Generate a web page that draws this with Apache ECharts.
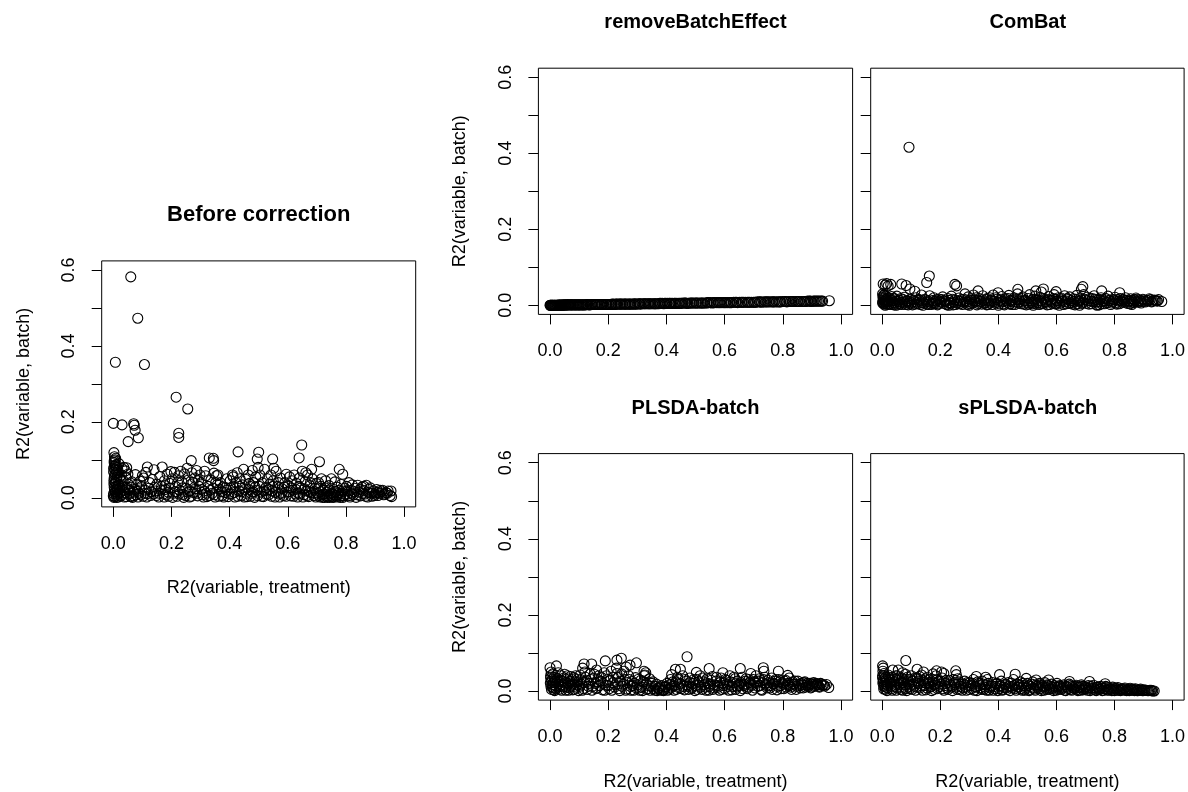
<!DOCTYPE html>
<html><head><meta charset="utf-8">
<script src="https://cdn.jsdelivr.net/npm/echarts@6/dist/echarts.min.js"></script>
<style>html,body{margin:0;padding:0;background:#fff}#c{width:1188px;height:792px}</style>
</head><body><div id="c"></div>
<script>
const panelTitles = ['Before correction', 'removeBatchEffect', 'ComBat', 'PLSDA-batch', 'sPLSDA-batch'];
const xTicks = [0, 0.2, 0.4, 0.6, 0.8, 1.0];
const yTicks = [0, 0.1, 0.2, 0.3, 0.4, 0.5, 0.6];
const yTickLabels = [0, 0.2, 0.4, 0.6];
const xAxisTitle = 'R2(variable, treatment)';
const yAxisTitle = 'R2(variable, batch)';

const beforeCorrection = [
[0.060,0.582],[0.084,0.473],[0.007,0.357],[0.107,0.351],[0.216,0.265],[0.256,0.234],
[0.000,0.196],[0.030,0.192],[0.070,0.195],[0.072,0.191],[0.075,0.178],[0.086,0.158],[0.051,0.148],
[0.225,0.170],[0.225,0.159],[0.648,0.139],[0.639,0.105],[0.429,0.121],[0.500,0.120],[0.495,0.102],
[0.548,0.102],[0.709,0.095],[0.330,0.105],[0.344,0.104],[0.345,0.098],[0.268,0.098],[0.777,0.075],
[0.789,0.062],[0.682,0.075],[0.117,0.081],[0.168,0.081],[0.140,0.074],[0.076,0.061],[0.046,0.079],
[0.002,0.119],[0.004,0.108],[0.006,0.100],[0.003,0.092],[0.010,0.088],[0.012,0.080],[0.005,0.075],
[0.001,0.068],[0.008,0.063],[0.014,0.058],[0.003,0.052],[0.011,0.047],[0.006,0.041],[0.002,0.036],
[0.009,0.030],[0.013,0.026],[0.004,0.021],[0.007,0.016],[0.001,0.011],[0.010,0.007],[0.005,0.003],
[0.012,0.001],[0.018,0.034],[0.020,0.012],[0.016,0.072],[0.022,0.055],[0.025,0.005],[0.019,0.090],
[0.002,0.001],[0.015,0.019],[0.008,0.104],[0.004,0.084],[0.013,0.066],
[0.030,0.077],[0.036,0.080],[0.042,0.071],[0.050,0.062],[0.034,0.045],[0.040,0.028],[0.048,0.010],
[0.055,0.020],[0.060,0.003],[0.064,0.042],[0.070,0.015],[0.080,0.034],[0.085,0.002],[0.090,0.024],
[0.095,0.008],[0.100,0.058],[0.104,0.052],[0.108,0.012],[0.038,0.002],[0.052,0.036],[0.068,0.005],
[0.092,0.044],[0.028,0.060],[0.044,0.052],
[0.112,0.067],[0.122,0.025],[0.128,0.006],[0.134,0.048],[0.145,0.018],[0.150,0.036],[0.156,0.002],
[0.160,0.056],[0.166,0.030],[0.172,0.010],[0.176,0.045],[0.180,0.022],[0.185,0.062],[0.190,0.004],
[0.194,0.038],[0.198,0.069],[0.125,0.040],[0.138,0.010],[0.175,0.002],[0.115,0.002],[0.188,0.015],
[0.202,0.050],[0.206,0.012],[0.210,0.067],[0.214,0.030],[0.219,0.004],[0.224,0.058],[0.228,0.020],
[0.232,0.070],[0.236,0.042],[0.240,0.009],[0.245,0.063],[0.250,0.025],[0.254,0.078],[0.258,0.047],
[0.262,0.002],[0.266,0.035],[0.270,0.066],[0.276,0.014],[0.280,0.052],[0.286,0.072],[0.290,0.005],
[0.295,0.030],[0.298,0.060],[0.264,0.018],[0.242,0.001],[0.283,0.024],
[0.302,0.040],[0.306,0.008],[0.312,0.018],[0.318,0.058],[0.322,0.003],[0.326,0.030],[0.336,0.047],
[0.340,0.012],[0.346,0.065],[0.350,0.002],[0.355,0.058],[0.360,0.060],[0.364,0.022],[0.368,0.040],
[0.374,0.006],[0.378,0.029],[0.384,0.014],[0.390,0.050],[0.395,0.003],[0.314,0.070],[0.344,0.025],
[0.358,0.035],[0.386,0.027],
[0.402,0.045],[0.406,0.010],[0.410,0.060],[0.414,0.028],[0.418,0.002],[0.422,0.040],[0.426,0.066],
[0.432,0.018],[0.436,0.050],[0.440,0.006],[0.444,0.034],[0.448,0.075],[0.452,0.022],[0.456,0.048],
[0.460,0.003],[0.464,0.060],[0.470,0.030],[0.474,0.012],[0.478,0.072],[0.482,0.040],[0.486,0.001],
[0.490,0.055],[0.494,0.020],[0.498,0.080],[0.412,0.055],[0.468,0.038],
[0.504,0.060],[0.508,0.015],[0.512,0.040],[0.516,0.003],[0.520,0.075],[0.525,0.027],[0.530,0.050],
[0.534,0.008],[0.538,0.036],[0.542,0.060],[0.546,0.018],[0.550,0.045],[0.556,0.002],[0.560,0.070],
[0.565,0.030],[0.570,0.010],[0.575,0.052],[0.580,0.024],[0.585,0.006],[0.590,0.040],[0.595,0.062],
[0.598,0.015],[0.528,0.020],[0.552,0.078],
[0.602,0.032],[0.606,0.055],[0.610,0.005],[0.614,0.045],[0.618,0.020],[0.622,0.060],[0.626,0.010],
[0.630,0.038],[0.634,0.002],[0.640,0.052],[0.645,0.026],[0.650,0.070],[0.655,0.008],[0.660,0.043],
[0.664,0.018],[0.668,0.060],[0.672,0.003],[0.676,0.032],[0.680,0.014],[0.685,0.050],[0.690,0.006],
[0.694,0.025],[0.698,0.038],[0.662,0.066],[0.636,0.012],
[0.702,0.012],[0.706,0.040],[0.710,0.002],[0.714,0.030],[0.718,0.008],[0.722,0.020],[0.726,0.001],
[0.730,0.045],[0.734,0.015],[0.738,0.004],[0.742,0.032],[0.746,0.010],[0.750,0.050],[0.754,0.002],
[0.758,0.022],[0.762,0.042],[0.766,0.006],[0.770,0.028],[0.774,0.013],[0.780,0.001],[0.784,0.035],
[0.788,0.018],[0.792,0.005],[0.796,0.025],[0.716,0.050],[0.744,0.001],
[0.802,0.030],[0.806,0.010],[0.810,0.040],[0.814,0.002],[0.818,0.020],[0.822,0.034],[0.826,0.008],
[0.830,0.025],[0.835,0.001],[0.840,0.033],[0.845,0.015],[0.850,0.005],[0.855,0.028],[0.860,0.020],
[0.865,0.010],[0.870,0.033],[0.875,0.002],[0.880,0.022],[0.886,0.012],[0.890,0.004],[0.895,0.018],
[0.900,0.010],[0.906,0.022],[0.912,0.014],[0.918,0.020],[0.922,0.016],[0.930,0.008],[0.938,0.014],
[0.945,0.018],[0.952,0.006],[0.955,0.018],[0.957,0.003],
[0.003,0.097],[0.007,0.085],[0.001,0.078],[0.009,0.072],[0.004,0.060],[0.012,0.054],[0.002,0.045],
[0.008,0.039],[0.015,0.033],[0.003,0.028],[0.011,0.023],[0.006,0.013],[0.014,0.009],[0.000,0.005],
[0.017,0.002],[0.021,0.025],[0.024,0.016],[0.027,0.045],[0.031,0.009],[0.033,0.031],[0.037,0.019],
[0.041,0.013],[0.045,0.003],[0.049,0.025],[0.057,0.012],[0.062,0.028],[0.066,0.001],[0.073,0.022],
[0.078,0.008],[0.083,0.017],[0.088,0.012],[0.097,0.030],[0.102,0.004],[0.110,0.020],[0.118,0.011],
[0.131,0.016],[0.142,0.028],[0.148,0.006],[0.158,0.012],[0.163,0.020],[0.178,0.032],[0.183,0.008],
[0.192,0.026],[0.204,0.001],[0.212,0.016],[0.221,0.040],[0.226,0.010],[0.238,0.026],[0.248,0.006],
[0.256,0.015],[0.268,0.004],[0.274,0.040],[0.288,0.012],[0.293,0.045],[0.304,0.022],[0.310,0.002],
[0.320,0.012],[0.330,0.006],[0.334,0.020],[0.348,0.008],[0.352,0.040],[0.362,0.004],[0.372,0.016],
[0.380,0.002],[0.392,0.020],[0.398,0.010],[0.404,0.026],[0.416,0.014],[0.428,0.004],[0.434,0.030],
[0.442,0.016],[0.450,0.002],[0.458,0.012],[0.466,0.022],[0.472,0.004],[0.480,0.016],[0.488,0.028],
[0.496,0.006],[0.502,0.030],[0.510,0.004],[0.518,0.018],[0.526,0.010],[0.536,0.022],[0.544,0.004],
[0.548,0.030],[0.558,0.014],[0.568,0.040],[0.572,0.002],[0.578,0.012],[0.588,0.028],[0.594,0.004],
[0.604,0.016],[0.612,0.026],[0.620,0.004],[0.628,0.022],[0.638,0.030],[0.642,0.010],[0.652,0.002],
[0.658,0.024],[0.666,0.006],[0.674,0.016],[0.678,0.040],[0.688,0.012],[0.696,0.002],[0.704,0.024],
[0.708,0.006],[0.712,0.016],[0.720,0.001],[0.724,0.010],[0.728,0.026],[0.732,0.004],[0.736,0.001],
[0.740,0.018],[0.748,0.004],[0.752,0.012],[0.756,0.001],[0.760,0.008],[0.764,0.016],[0.768,0.002],
[0.772,0.008],[0.776,0.020],[0.782,0.006],[0.786,0.012],[0.790,0.001],[0.798,0.010],[0.804,0.018],
[0.812,0.006],[0.820,0.012],[0.828,0.016],[0.838,0.008],[0.848,0.022],[0.858,0.012],[0.862,0.030],
[0.868,0.004],[0.878,0.014],[0.884,0.026],[0.892,0.012],[0.898,0.006],[0.904,0.014],[0.910,0.006],
[0.916,0.012],[0.926,0.020],[0.934,0.010],[0.942,0.012]
];

const removeBatchEffect = [
[0.000,0.000],[0.003,0.000],[0.006,0.000],[0.009,0.000],[0.012,0.000],[0.016,0.000],[0.019,0.000],
[0.023,0.000],[0.027,0.000],[0.031,0.001],[0.035,0.000],[0.039,0.001],[0.044,0.000],[0.048,0.001],
[0.053,0.001],[0.059,0.001],[0.064,0.001],[0.071,0.001],[0.076,0.001],[0.083,0.001],[0.089,0.001],
[0.096,0.001],[0.101,0.001],[0.109,0.001],[0.115,0.001],[0.123,0.001],[0.129,0.002],[0.138,0.001],
[0.144,0.002],[0.153,0.002],[0.159,0.002],[0.168,0.002],[0.176,0.002],[0.181,0.002],[0.191,0.002],
[0.197,0.002],[0.207,0.002],[0.213,0.003],[0.223,0.002],[0.229,0.003],[0.239,0.003],[0.245,0.003],
[0.255,0.003],[0.261,0.003],[0.271,0.003],[0.278,0.003],[0.288,0.003],[0.294,0.003],[0.305,0.004],
[0.311,0.003],[0.322,0.004],[0.329,0.004],[0.339,0.004],[0.346,0.004],[0.357,0.004],[0.363,0.004],
[0.374,0.004],[0.381,0.005],[0.391,0.004],[0.398,0.005],[0.409,0.005],[0.416,0.005],[0.427,0.005],
[0.434,0.005],[0.445,0.005],[0.452,0.005],[0.463,0.006],[0.470,0.005],[0.481,0.006],[0.489,0.006],
[0.500,0.006],[0.507,0.006],[0.519,0.006],[0.526,0.006],[0.538,0.006],[0.545,0.007],[0.557,0.006],
[0.565,0.007],[0.577,0.007],[0.585,0.007],[0.597,0.007],[0.605,0.007],[0.616,0.007],[0.624,0.007],
[0.637,0.008],[0.645,0.007],[0.657,0.008],[0.665,0.008],[0.678,0.008],[0.686,0.008],[0.699,0.008],
[0.707,0.008],[0.720,0.009],[0.728,0.008],[0.741,0.009],[0.750,0.009],[0.763,0.009],[0.771,0.009],
[0.784,0.009],[0.793,0.009],[0.806,0.010],[0.814,0.009],[0.827,0.010],[0.836,0.010],[0.849,0.010],
[0.857,0.010],[0.870,0.010],[0.879,0.010],[0.891,0.011],[0.899,0.010],[0.909,0.011],[0.918,0.011],
[0.928,0.011],[0.937,0.011],[0.960,0.012],
[0.001,0.000],[0.004,0.000],[0.007,0.000],[0.010,0.000],[0.014,0.000],[0.017,0.000],[0.021,0.000],
[0.025,0.000],[0.029,0.000],[0.033,0.000],[0.037,0.000],[0.041,0.000],[0.046,0.001],[0.051,0.000],
[0.056,0.001],[0.061,0.001],[0.067,0.001],[0.073,0.001],[0.079,0.001],[0.086,0.001],[0.092,0.001],
[0.099,0.001],[0.105,0.001],[0.112,0.001],[0.119,0.001],[0.126,0.002],[0.133,0.001],[0.141,0.002],
[0.148,0.002],[0.156,0.002],[0.163,0.002],[0.171,0.002],[0.178,0.002],[0.186,0.002],[0.194,0.002],
[0.202,0.002],[0.210,0.002],[0.218,0.003],[0.226,0.003],[0.234,0.003],[0.242,0.003],[0.250,0.003],
[0.258,0.003],[0.266,0.003],[0.274,0.003],[0.283,0.003],[0.291,0.004],[0.299,0.003],[0.308,0.004],
[0.316,0.004],[0.325,0.004],[0.334,0.004],[0.342,0.004],[0.351,0.004],[0.360,0.004],[0.368,0.004],
[0.377,0.005],[0.386,0.005],[0.394,0.005],[0.403,0.005],[0.412,0.005],[0.421,0.005],[0.430,0.005],
[0.440,0.005],[0.448,0.005],[0.457,0.006],[0.466,0.006],[0.475,0.005],[0.485,0.006],[0.494,0.006],
[0.503,0.006],[0.513,0.006],[0.522,0.006],[0.532,0.006],[0.541,0.007],[0.551,0.007],[0.561,0.007],
[0.571,0.007],[0.581,0.007],[0.591,0.007],[0.601,0.007],[0.611,0.007],[0.620,0.007],[0.631,0.008],
[0.641,0.008],[0.651,0.008],[0.661,0.008],[0.671,0.008],[0.682,0.008],[0.692,0.008],[0.703,0.008],
[0.713,0.009],[0.724,0.009],[0.735,0.009],[0.745,0.009],[0.756,0.009],[0.767,0.009],[0.778,0.009],
[0.789,0.009],[0.799,0.010],[0.810,0.010],[0.821,0.010],[0.832,0.010],[0.843,0.010],[0.853,0.010],
[0.864,0.010],[0.875,0.010],[0.885,0.011],[0.895,0.011],[0.905,0.011],[0.914,0.011],[0.923,0.011],
[0.933,0.011]
];

const comBat = [
[0.092,0.416],[0.162,0.077],[0.153,0.060],[0.003,0.056],[0.015,0.057],[0.029,0.055],[0.010,0.053],
[0.020,0.051],[0.067,0.056],[0.082,0.052],[0.095,0.043],[0.112,0.037],[0.250,0.055],[0.256,0.051],
[0.330,0.038],[0.399,0.033],[0.467,0.042],[0.529,0.038],[0.555,0.043],[0.548,0.035],[0.599,0.036],
[0.691,0.049],[0.686,0.042],[0.756,0.038],[0.818,0.033],[0.963,0.010],[0.163,0.025],[0.285,0.030],
[0.135,0.027],
[0.001,0.030],[0.004,0.026],[0.002,0.022],[0.006,0.018],[0.003,0.014],[0.008,0.010],[0.001,0.006],
[0.005,0.003],[0.010,0.000],[0.012,0.024],[0.014,0.016],[0.016,0.008],[0.018,0.002],[0.007,0.028],
[0.011,0.012],[0.020,0.020],[0.024,0.004],[0.028,0.014],[0.032,0.023],[0.036,0.007],[0.040,0.001],
[0.044,0.017],[0.050,0.024],[0.055,0.010],[0.060,0.003],[0.064,0.018],[0.070,0.008],[0.075,0.021],
[0.080,0.002],[0.086,0.012],[0.092,0.005],[0.098,0.016],[0.104,0.001],[0.110,0.010],[0.116,0.020],
[0.122,0.004],[0.128,0.013],[0.134,0.007],[0.140,0.000],[0.146,0.016],[0.152,0.009],[0.158,0.002],
[0.166,0.014],[0.172,0.006],[0.178,0.020],[0.184,0.011],[0.190,0.001],[0.196,0.016],[0.202,0.008],
[0.208,0.022],[0.214,0.012],[0.220,0.003],[0.226,0.018],[0.232,0.007],[0.238,0.024],[0.244,0.001],
[0.250,0.014],[0.258,0.006],[0.264,0.019],[0.270,0.010],[0.276,0.002],[0.282,0.016],[0.290,0.008],
[0.296,0.022],[0.302,0.004],[0.308,0.013],[0.314,0.027],[0.320,0.009],[0.326,0.001],[0.334,0.018],
[0.340,0.011],[0.346,0.025],[0.352,0.005],[0.358,0.015],[0.364,0.002],[0.370,0.020],[0.376,0.010],
[0.382,0.027],[0.388,0.006],[0.394,0.016],[0.400,0.000],[0.406,0.012],[0.412,0.023],[0.418,0.004],
[0.424,0.017],[0.430,0.008],[0.436,0.026],[0.442,0.013],[0.448,0.002],[0.454,0.020],[0.460,0.009],
[0.466,0.030],[0.472,0.015],[0.478,0.004],[0.484,0.022],[0.490,0.011],[0.496,0.001],[0.502,0.018],
[0.508,0.028],[0.514,0.007],[0.520,0.016],[0.526,0.024],[0.532,0.003],[0.538,0.013],[0.544,0.021],
[0.550,0.006],[0.556,0.017],[0.562,0.010],[0.568,0.001],[0.574,0.023],[0.580,0.013],[0.586,0.005],
[0.592,0.028],[0.598,0.016],[0.604,0.008],[0.610,0.000],[0.616,0.019],[0.622,0.011],[0.628,0.025],
[0.634,0.004],[0.640,0.015],[0.646,0.022],[0.652,0.007],[0.658,0.017],[0.664,0.001],[0.670,0.026],
[0.676,0.012],[0.682,0.019],[0.688,0.005],[0.694,0.028],[0.700,0.014],[0.706,0.021],[0.712,0.003],
[0.718,0.011],[0.724,0.018],[0.730,0.025],[0.736,0.008],[0.742,0.014],[0.748,0.001],[0.754,0.020],
[0.760,0.010],[0.766,0.004],[0.772,0.017],[0.778,0.024],[0.784,0.012],[0.790,0.006],[0.796,0.015],
[0.802,0.021],[0.808,0.003],[0.814,0.011],[0.820,0.018],[0.826,0.008],[0.832,0.014],[0.838,0.020],
[0.844,0.005],[0.850,0.012],[0.856,0.017],[0.862,0.009],[0.868,0.015],[0.874,0.019],[0.880,0.010],
[0.886,0.014],[0.892,0.006],[0.898,0.016],[0.904,0.011],[0.912,0.013],[0.920,0.017],[0.928,0.009],
[0.936,0.014],[0.944,0.012],[0.952,0.015],[0.230,0.000],[0.360,0.001],[0.520,0.000],[0.600,0.003],
[0.740,0.000],[0.860,0.002],[0.048,0.000],[0.180,0.004],[0.300,0.000],[0.440,0.003],[0.680,0.000],
[0.002,0.009],[0.004,0.020],[0.006,0.005],[0.009,0.015],[0.013,0.004],[0.017,0.013],[0.022,0.010],
[0.026,0.019],[0.030,0.002],[0.034,0.012],[0.038,0.018],[0.042,0.006],[0.047,0.011],[0.052,0.003],
[0.058,0.014],[0.062,0.008],[0.067,0.002],[0.072,0.015],[0.078,0.006],[0.083,0.011],[0.089,0.001],
[0.095,0.010],[0.101,0.006],[0.107,0.014],[0.113,0.003],[0.119,0.008],[0.125,0.016],[0.131,0.002],
[0.137,0.012],[0.143,0.006],[0.149,0.014],[0.155,0.003],[0.161,0.009],[0.169,0.002],[0.175,0.012],
[0.181,0.007],[0.187,0.015],[0.193,0.004],[0.199,0.011],[0.205,0.015],[0.211,0.005],[0.217,0.010],
[0.223,0.001],[0.229,0.013],[0.235,0.005],[0.241,0.016],[0.247,0.008],[0.253,0.002],[0.261,0.012],
[0.267,0.004],[0.273,0.015],[0.279,0.008],[0.287,0.012],[0.293,0.002],[0.299,0.010],[0.305,0.017],
[0.311,0.006],[0.317,0.012],[0.323,0.020],[0.329,0.005],[0.337,0.010],[0.343,0.003],[0.349,0.012],
[0.355,0.008],[0.361,0.018],[0.367,0.006],[0.373,0.013],[0.379,0.002],[0.385,0.011],[0.391,0.020],
[0.397,0.008],[0.403,0.004],[0.409,0.016],[0.415,0.010],[0.421,0.001],[0.427,0.012],[0.433,0.018],
[0.439,0.004],[0.445,0.010],[0.451,0.014],[0.457,0.002],[0.463,0.016],[0.469,0.006],[0.475,0.010],
[0.481,0.018],[0.487,0.003],[0.493,0.013],[0.499,0.008],[0.505,0.003],[0.511,0.012],[0.517,0.004],
[0.523,0.009],[0.529,0.016],[0.535,0.007],[0.541,0.002],[0.547,0.012],[0.553,0.004],[0.559,0.014],
[0.565,0.008],[0.571,0.015],[0.577,0.002],[0.583,0.010],[0.589,0.018],[0.595,0.004],[0.601,0.012],
[0.607,0.020],[0.613,0.006],[0.619,0.014],[0.625,0.002],[0.631,0.010],[0.637,0.018],[0.643,0.005],
[0.649,0.012],[0.655,0.003],[0.661,0.010],[0.667,0.016],[0.673,0.004],[0.679,0.011],[0.685,0.014],
[0.691,0.008],[0.697,0.016],[0.703,0.005],[0.709,0.012],[0.715,0.018],[0.721,0.004],[0.727,0.010],
[0.733,0.016],[0.739,0.002],[0.745,0.009],[0.751,0.015],[0.757,0.004],[0.763,0.012],[0.769,0.018],
[0.775,0.007],[0.781,0.013],[0.787,0.002],[0.793,0.010],[0.799,0.014],[0.805,0.006],[0.811,0.015],
[0.817,0.004],[0.823,0.012],[0.829,0.016],[0.835,0.008],[0.841,0.013],[0.847,0.010],[0.853,0.004],
[0.859,0.013],[0.865,0.007],[0.871,0.012],[0.877,0.016],[0.883,0.008],[0.889,0.012],[0.895,0.010],
[0.901,0.014],[0.908,0.009],[0.916,0.012],[0.924,0.015],[0.932,0.011],[0.940,0.013],[0.948,0.011]
];

const plsdaBatch = [
[0.471,0.090],[0.190,0.079],[0.230,0.081],[0.245,0.086],[0.297,0.074],[0.275,0.068],[0.143,0.071],
[0.117,0.071],[0.000,0.061],[0.022,0.066],[0.654,0.059],[0.733,0.061],[0.785,0.052],[0.431,0.057],
[0.448,0.057],[0.547,0.059],[0.323,0.052],[0.329,0.048],[0.418,0.043],[0.503,0.049],[0.594,0.048],
[0.817,0.041],[0.958,0.009],[0.112,0.060],[0.160,0.055],[0.262,0.063],[0.735,0.052],[0.690,0.046],
[0.004,0.050],[0.010,0.045],[0.002,0.040],[0.014,0.036],[0.006,0.030],[0.018,0.026],[0.001,0.021],
[0.009,0.017],[0.003,0.012],[0.012,0.008],[0.005,0.004],[0.016,0.001],[0.024,0.033],[0.028,0.048],
[0.030,0.018],[0.034,0.005],[0.038,0.040],[0.042,0.027],[0.046,0.011],[0.050,0.044],[0.054,0.002],
[0.058,0.032],[0.062,0.020],[0.066,0.008],[0.070,0.038],[0.074,0.015],[0.078,0.003],[0.082,0.035],
[0.086,0.024],[0.090,0.010],[0.094,0.030],[0.098,0.001],[0.104,0.042],[0.108,0.018],[0.114,0.006],
[0.120,0.050],[0.126,0.028],[0.132,0.012],[0.138,0.045],[0.144,0.002],[0.150,0.034],[0.156,0.020],
[0.162,0.008],[0.168,0.040],[0.174,0.026],[0.180,0.003],[0.186,0.048],[0.192,0.015],[0.198,0.030],
[0.204,0.006],[0.210,0.052],[0.216,0.022],[0.222,0.010],[0.228,0.060],[0.234,0.036],[0.240,0.001],
[0.246,0.045],[0.252,0.018],[0.258,0.030],[0.264,0.005],[0.270,0.040],[0.276,0.012],[0.282,0.025],
[0.288,0.002],[0.294,0.035],[0.300,0.016],[0.306,0.008],[0.312,0.028],[0.318,0.001],[0.324,0.040],
[0.330,0.020],[0.336,0.006],[0.342,0.032],[0.348,0.012],[0.354,0.024],[0.360,0.002],[0.366,0.018],
[0.372,0.008],[0.378,0.003],[0.384,0.014],[0.390,0.001],[0.396,0.010],[0.402,0.020],[0.408,0.005],
[0.414,0.030],[0.420,0.012],[0.426,0.002],[0.432,0.024],[0.438,0.036],[0.444,0.008],[0.450,0.018],
[0.456,0.040],[0.462,0.003],[0.468,0.026],[0.474,0.012],[0.480,0.034],[0.486,0.006],[0.492,0.020],
[0.498,0.001],[0.504,0.030],[0.510,0.015],[0.516,0.040],[0.522,0.004],[0.528,0.024],[0.534,0.010],
[0.540,0.032],[0.546,0.002],[0.552,0.018],[0.558,0.038],[0.564,0.008],[0.570,0.026],[0.576,0.014],
[0.582,0.002],[0.588,0.034],[0.594,0.020],[0.600,0.006],[0.606,0.028],[0.612,0.012],[0.618,0.040],
[0.624,0.003],[0.630,0.022],[0.636,0.032],[0.642,0.010],[0.648,0.018],[0.654,0.001],[0.660,0.036],
[0.666,0.014],[0.672,0.026],[0.678,0.006],[0.684,0.030],[0.690,0.018],[0.696,0.002],[0.702,0.024],
[0.708,0.040],[0.714,0.012],[0.720,0.032],[0.726,0.004],[0.732,0.022],[0.738,0.036],[0.744,0.014],
[0.750,0.028],[0.756,0.008],[0.762,0.034],[0.768,0.018],[0.774,0.026],[0.780,0.003],[0.786,0.030],
[0.792,0.014],[0.798,0.022],[0.804,0.006],[0.810,0.028],[0.816,0.016],[0.822,0.034],[0.828,0.010],
[0.834,0.024],[0.840,0.018],[0.846,0.004],[0.852,0.026],[0.858,0.014],[0.864,0.020],[0.870,0.008],
[0.876,0.024],[0.882,0.016],[0.888,0.012],[0.894,0.020],[0.900,0.010],[0.906,0.022],[0.912,0.014],
[0.918,0.018],[0.924,0.012],[0.930,0.020],[0.936,0.015],[0.944,0.013],[0.950,0.017],
[0.002,0.034],[0.005,0.026],[0.008,0.010],[0.011,0.022],[0.013,0.003],[0.015,0.030],[0.019,0.014],
[0.021,0.006],[0.026,0.024],[0.032,0.012],[0.036,0.028],[0.040,0.002],[0.044,0.016],[0.048,0.034],
[0.052,0.022],[0.056,0.010],[0.060,0.040],[0.064,0.002],[0.068,0.026],[0.072,0.012],[0.076,0.030],
[0.080,0.018],[0.084,0.004],[0.088,0.040],[0.092,0.016],[0.096,0.024],[0.101,0.012],[0.106,0.030],
[0.111,0.002],[0.116,0.022],[0.122,0.036],[0.128,0.004],[0.134,0.020],[0.140,0.030],[0.146,0.012],
[0.152,0.044],[0.158,0.006],[0.164,0.024],[0.170,0.014],[0.176,0.036],[0.182,0.020],[0.188,0.002],
[0.194,0.040],[0.200,0.014],[0.206,0.028],[0.212,0.002],[0.218,0.036],[0.224,0.016],[0.230,0.046],
[0.236,0.006],[0.242,0.026],[0.248,0.012],[0.254,0.052],[0.260,0.002],[0.266,0.022],[0.272,0.030],
[0.278,0.002],[0.284,0.014],[0.290,0.020],[0.296,0.008],[0.302,0.030],[0.308,0.002],[0.314,0.010],
[0.320,0.024],[0.326,0.042],[0.332,0.004],[0.338,0.014],[0.344,0.002],[0.350,0.020],[0.356,0.006],
[0.362,0.012],[0.368,0.001],[0.374,0.006],[0.380,0.010],[0.386,0.002],[0.392,0.004],[0.398,0.012],
[0.404,0.002],[0.410,0.016],[0.416,0.008],[0.422,0.024],[0.428,0.014],[0.434,0.004],[0.440,0.030],
[0.446,0.020],[0.452,0.006],[0.458,0.012],[0.464,0.030],[0.470,0.016],[0.476,0.004],[0.482,0.022],
[0.488,0.010],[0.494,0.030],[0.500,0.014],[0.506,0.004],[0.512,0.024],[0.518,0.010],[0.524,0.034],
[0.530,0.016],[0.536,0.002],[0.542,0.020],[0.548,0.012],[0.554,0.028],[0.560,0.004],[0.566,0.016],
[0.572,0.036],[0.578,0.010],[0.584,0.022],[0.590,0.004],[0.596,0.014],[0.602,0.030],[0.608,0.018],
[0.614,0.002],[0.620,0.024],[0.626,0.012],[0.632,0.036],[0.638,0.004],[0.644,0.026],[0.650,0.014],
[0.656,0.022],[0.662,0.006],[0.668,0.018],[0.674,0.032],[0.680,0.010],[0.686,0.022],[0.692,0.014],
[0.698,0.030],[0.704,0.008],[0.710,0.020],[0.716,0.026],[0.722,0.014],[0.728,0.002],[0.734,0.030],
[0.740,0.018],[0.746,0.008],[0.752,0.022],[0.758,0.014],[0.764,0.004],[0.770,0.020],[0.776,0.030],
[0.782,0.012],[0.788,0.024],[0.794,0.006],[0.800,0.018],[0.806,0.026],[0.812,0.010],[0.818,0.020],
[0.824,0.014],[0.830,0.004],[0.836,0.018],[0.842,0.026],[0.848,0.012],[0.854,0.018],[0.860,0.008],
[0.866,0.016],[0.872,0.022],[0.878,0.010],[0.884,0.020],[0.890,0.016],[0.896,0.008],[0.902,0.018],
[0.908,0.012],[0.914,0.020],[0.920,0.016],[0.926,0.010],[0.932,0.018],[0.940,0.016]
];

const splsdaBatch = [
[0.081,0.080],[0.001,0.066],[0.036,0.055],[0.055,0.055],[0.120,0.057],[0.253,0.053],[0.187,0.053],
[0.204,0.050],[0.324,0.038],[0.356,0.036],[0.404,0.043],[0.458,0.044],[0.496,0.033],[0.530,0.029],
[0.573,0.029],[0.645,0.025],[0.714,0.025],[0.768,0.019],[0.937,0.000],[0.003,0.060],[0.070,0.048],
[0.142,0.050],[0.255,0.043],[0.175,0.045],[0.212,0.046],
[0.002,0.052],[0.006,0.046],[0.001,0.040],[0.010,0.035],[0.004,0.030],[0.014,0.025],[0.002,0.020],
[0.008,0.015],[0.012,0.010],[0.005,0.005],[0.016,0.001],[0.020,0.042],[0.024,0.030],[0.028,0.018],
[0.032,0.006],[0.036,0.036],[0.040,0.024],[0.044,0.012],[0.048,0.002],[0.052,0.040],[0.056,0.028],
[0.060,0.016],[0.064,0.004],[0.068,0.034],[0.072,0.022],[0.076,0.010],[0.080,0.044],[0.084,0.001],
[0.088,0.030],[0.092,0.018],[0.096,0.006],[0.100,0.040],[0.105,0.026],[0.110,0.012],[0.115,0.002],
[0.120,0.034],[0.125,0.020],[0.130,0.008],[0.135,0.042],[0.140,0.028],[0.145,0.014],[0.150,0.003],
[0.155,0.036],[0.160,0.022],[0.165,0.010],[0.170,0.001],[0.175,0.030],[0.180,0.016],[0.185,0.040],
[0.190,0.006],[0.195,0.026],[0.200,0.012],[0.206,0.034],[0.212,0.002],[0.218,0.020],[0.224,0.008],
[0.230,0.028],[0.236,0.014],[0.242,0.001],[0.248,0.022],[0.254,0.010],[0.260,0.032],[0.266,0.004],
[0.272,0.018],[0.278,0.008],[0.284,0.026],[0.290,0.002],[0.296,0.014],[0.302,0.022],[0.308,0.006],
[0.314,0.030],[0.320,0.012],[0.326,0.001],[0.332,0.020],[0.338,0.008],[0.344,0.026],[0.350,0.004],
[0.356,0.016],[0.362,0.030],[0.368,0.002],[0.374,0.012],[0.380,0.022],[0.386,0.006],[0.392,0.018],
[0.398,0.001],[0.404,0.012],[0.410,0.026],[0.416,0.004],[0.422,0.016],[0.428,0.008],[0.434,0.022],
[0.440,0.001],[0.446,0.012],[0.452,0.030],[0.458,0.006],[0.464,0.018],[0.470,0.010],[0.476,0.024],
[0.482,0.002],[0.488,0.014],[0.494,0.007],[0.500,0.020],[0.506,0.001],[0.512,0.012],[0.518,0.024],
[0.524,0.005],[0.530,0.016],[0.536,0.008],[0.542,0.020],[0.548,0.001],[0.554,0.010],[0.560,0.022],
[0.566,0.004],[0.572,0.014],[0.578,0.007],[0.584,0.018],[0.590,0.001],[0.596,0.010],[0.602,0.020],
[0.608,0.004],[0.614,0.012],[0.620,0.007],[0.626,0.016],[0.632,0.001],[0.638,0.010],[0.644,0.018],
[0.650,0.004],[0.656,0.012],[0.662,0.006],[0.668,0.015],[0.674,0.001],[0.680,0.009],[0.686,0.016],
[0.692,0.003],[0.698,0.011],[0.704,0.006],[0.710,0.014],[0.716,0.001],[0.722,0.008],[0.728,0.015],
[0.734,0.003],[0.740,0.010],[0.746,0.005],[0.752,0.012],[0.758,0.001],[0.764,0.007],[0.770,0.012],
[0.776,0.002],[0.782,0.008],[0.788,0.004],[0.794,0.010],[0.800,0.001],[0.806,0.006],[0.812,0.009],
[0.818,0.002],[0.824,0.006],[0.830,0.003],[0.836,0.008],[0.842,0.001],[0.848,0.005],[0.854,0.007],
[0.860,0.002],[0.866,0.004],[0.872,0.006],[0.878,0.001],[0.884,0.003],[0.890,0.005],[0.896,0.001],
[0.902,0.003],[0.910,0.002],[0.918,0.001],[0.926,0.002],[0.932,0.000],
[0.001,0.034],[0.003,0.025],[0.005,0.012],[0.007,0.040],[0.009,0.020],[0.011,0.004],[0.013,0.030],
[0.015,0.016],[0.018,0.008],[0.022,0.036],[0.026,0.022],[0.030,0.012],[0.034,0.002],[0.038,0.030],
[0.042,0.018],[0.046,0.040],[0.050,0.008],[0.054,0.020],[0.058,0.034],[0.062,0.010],[0.066,0.022],
[0.070,0.002],[0.074,0.030],[0.078,0.016],[0.082,0.006],[0.086,0.036],[0.090,0.024],[0.094,0.012],
[0.098,0.030],[0.103,0.004],[0.108,0.018],[0.113,0.034],[0.118,0.010],[0.123,0.026],[0.128,0.038],
[0.133,0.014],[0.138,0.002],[0.143,0.022],[0.148,0.032],[0.153,0.008],[0.158,0.018],[0.163,0.030],
[0.168,0.012],[0.173,0.024],[0.178,0.004],[0.183,0.020],[0.188,0.030],[0.193,0.010],[0.198,0.018],
[0.203,0.026],[0.209,0.006],[0.215,0.014],[0.221,0.028],[0.227,0.004],[0.233,0.018],[0.239,0.010],
[0.245,0.030],[0.251,0.016],[0.257,0.004],[0.263,0.024],[0.269,0.012],[0.275,0.002],[0.281,0.018],
[0.287,0.010],[0.293,0.022],[0.299,0.004],[0.305,0.014],[0.311,0.020],[0.317,0.002],[0.323,0.010],
[0.329,0.024],[0.335,0.014],[0.341,0.004],[0.347,0.018],[0.353,0.010],[0.359,0.002],[0.365,0.020],
[0.371,0.008],[0.377,0.014],[0.383,0.002],[0.389,0.012],[0.395,0.020],[0.401,0.006],[0.407,0.014],
[0.413,0.002],[0.419,0.010],[0.425,0.018],[0.431,0.004],[0.437,0.012],[0.443,0.020],[0.449,0.008],
[0.455,0.014],[0.461,0.002],[0.467,0.010],[0.473,0.016],[0.479,0.006],[0.485,0.020],[0.491,0.002],
[0.497,0.010],[0.503,0.014],[0.509,0.004],[0.515,0.018],[0.521,0.008],[0.527,0.002],[0.533,0.012],
[0.539,0.016],[0.545,0.006],[0.551,0.014],[0.557,0.002],[0.563,0.010],[0.569,0.016],[0.575,0.004],
[0.581,0.012],[0.587,0.006],[0.593,0.014],[0.599,0.002],[0.605,0.010],[0.611,0.014],[0.617,0.004],
[0.623,0.010],[0.629,0.002],[0.635,0.012],[0.641,0.006],[0.647,0.014],[0.653,0.002],[0.659,0.008],
[0.665,0.012],[0.671,0.004],[0.677,0.010],[0.683,0.002],[0.689,0.012],[0.695,0.006],[0.701,0.010],
[0.707,0.002],[0.713,0.008],[0.719,0.012],[0.725,0.004],[0.731,0.008],[0.737,0.001],[0.743,0.010],
[0.749,0.004],[0.755,0.008],[0.761,0.002],[0.767,0.006],[0.773,0.010],[0.779,0.003],[0.785,0.006],
[0.791,0.001],[0.797,0.005],[0.803,0.008],[0.809,0.002],[0.815,0.005],[0.821,0.001],[0.827,0.004],
[0.833,0.006],[0.839,0.002],[0.845,0.004],[0.851,0.001],[0.857,0.003],[0.863,0.005],[0.869,0.001],
[0.875,0.003],[0.881,0.001],[0.887,0.002],[0.893,0.003],[0.899,0.001],[0.906,0.002],[0.914,0.001],
[0.922,0.002],[0.928,0.001]
];

const panelData = [beforeCorrection, removeBatchEffect, comBat, plsdaBatch, splsdaBatch];

// layout (pixels)
const FONT = '"Liberation Sans", Arial, Helvetica, sans-serif';
const layout = [
  {left: 101.7, top: 260.9, width: 314, height: 246, yLab: true, xName: true, yName: true, tSize: 22},
  {left: 538.4, top: 68.2, width: 314.2, height: 246.2, yLab: true, xName: false, yName: true, tSize: 20},
  {left: 870.7, top: 68.2, width: 314.2, height: 246.2, yLab: false, xName: false, yName: false, tSize: 20},
  {left: 538.4, top: 453.6, width: 314.2, height: 246.5, yLab: true, xName: true, yName: true, tSize: 20},
  {left: 870.7, top: 453.6, width: 314.2, height: 246.5, yLab: false, xName: true, yName: false, tSize: 20}
];

const grid = [], xAxis = [], yAxis = [], series = [], title = [];
layout.forEach((L, i) => {
  grid.push({left: L.left, top: L.top, width: L.width, height: L.height,
    show: true, borderColor: '#000', borderWidth: 1, backgroundColor: 'transparent', containLabel: false});
  xAxis.push({
    type: 'value', gridIndex: i, min: -0.04, max: 1.04, position: 'bottom',
    axisLine: {show: false, onZero: false}, splitLine: {show: false},
    axisTick: {show: true, customValues: xTicks, length: 10, inside: false, lineStyle: {color: '#000', width: 1}},
    axisLabel: {show: true, customValues: xTicks, formatter: v => v.toFixed(1), fontSize: 18,
      fontFamily: FONT, color: '#000', margin: 28},
    name: L.xName ? xAxisTitle : '', nameLocation: 'middle', nameGap: 72.5,
    nameTextStyle: {fontSize: 18, fontFamily: FONT, color: '#000'}
  });
  yAxis.push({
    type: 'value', gridIndex: i, min: -0.024, max: 0.624, position: 'left',
    axisLine: {show: false, onZero: false}, splitLine: {show: false},
    axisTick: {show: true, customValues: yTicks, length: 10, inside: false, lineStyle: {color: '#000', width: 1}},
    axisLabel: {show: L.yLab, customValues: yTickLabels, formatter: v => v.toFixed(1), fontSize: 18,
      fontFamily: FONT, color: '#000', margin: 23.5, rotate: 90},
    name: L.yName ? yAxisTitle : '', nameLocation: 'middle', nameGap: 69, nameRotate: 90,
    nameTextStyle: {fontSize: 18, fontFamily: FONT, color: '#000'}
  });
  series.push({
    type: 'scatter', xAxisIndex: i, yAxisIndex: i, data: panelData[i],
    symbol: 'circle', symbolSize: 10, silent: true,
    itemStyle: {color: 'rgba(0,0,0,0)', borderColor: '#000', borderWidth: 1.1, opacity: 1}
  });
  title.push({
    text: panelTitles[i], left: L.left + L.width / 2, top: L.top - 45.5 - L.tSize / 2, textAlign: 'center', padding: 0,
    textStyle: {fontSize: L.tSize, fontWeight: 'bold', fontFamily: FONT, color: '#000'}
  });
});

const chart = echarts.init(document.getElementById('c'), null, {renderer: 'canvas'});
chart.setOption({animation: false, backgroundColor: '#fff', title, grid, xAxis, yAxis, series});
</script>
</body></html>
